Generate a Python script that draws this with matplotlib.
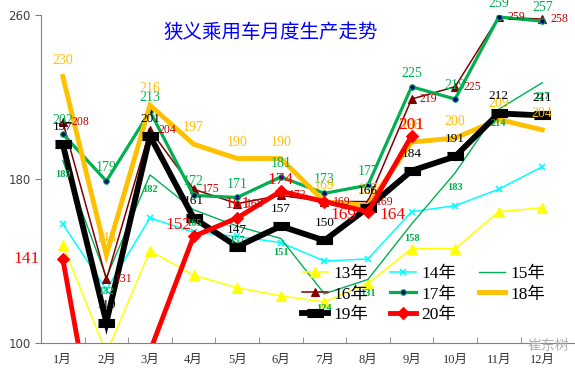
import numpy as np
import matplotlib
matplotlib.use('Agg')
import matplotlib.pyplot as plt

plt.rcParams['font.family'] = ['Liberation Serif', 'Noto Sans CJK SC', 'DejaVu Sans']

# data (万辆)
months = ['1月', '2月', '3月', '4月', '5月', '6月', '7月', '8月', '9月', '10月', '11月', '12月']
y13 = [148, 95, 145, 133, 127, 123, 120, 129, 146, 146, 164, 166]
y14 = [158, 126, 161, 154, 152, 149, 140, 141, 164, 167, 175, 186]
y15 = [189, 132, 182, 165, 157, 151, 124, 131, 158, 183, 214, 227]
y16 = [208, 131, 204, 175, 168, 172, 169, 169, 219, 225, 259, 258]
y17 = [202, 179, 213, 172, 171, 181, 173, 177, 225, 219, 259, 257]
y18 = [230, 143, 216, 197, 190, 190, 169, 167, 198, 200, 209, 204]
y19 = [197, 110, 201, 161, 147, 157, 150, 166, 184, 191, 212, 211]
y20 = [141, 24, 96, 152, 161, 174, 169, 164, 201]

fig = plt.figure(figsize=(5.75, 3.69), dpi=100)
ax = fig.add_axes([41 / 575, 1 - 343 / 369, 1 - 41 / 575, (343 - 15) / 369])

x = np.arange(1, 13)
rect = [(-1, -0.5), (1, -0.5), (1, 0.5), (-1, 0.5)]

# label placement for the 2020 series (points)
off20 = [(-26, 0), (0, 0), (0, 0), (-11, 8), (0, 10), (0, 8), (14, -10), (18, -2), (0, 8)]

# (name, values, color, lw, marker, ms, mfc, label color, label size, label offset, ha, va)
series = [
    ('13年', y13, '#FFFF00', 1.1, '^', 7, '#FFFF00', None, 0, (0, 0), 'center', 'center'),
    ('14年', y14, '#00FFFF', 1.1, 'x', 4, '#00FFFF', None, 0, (0, 0), 'center', 'center'),
    ('15年', y15, '#00B050', 1.0, None, 0, None, '#00B050', 7.5, (0, -7), 'center', 'top'),
    ('16年', y16, '#800000', 1.1, '^', 6, '#800000', '#C00000', 8.5, (6, 0), 'left', 'center'),
    ('17年', y17, '#00B050', 2.3, 'o', 4, '#000080', '#00B050', 10, (0, 5), 'center', 'bottom'),
    ('18年', y18, '#FFC000', 3.5, None, 0, None, '#FFC000', 10, (0, 7), 'center', 'bottom'),
    ('19年', y19, '#000000', 4.2, rect, 12, '#000000', '#000000', 9.5, (0, 8), 'center', 'bottom'),
    ('20年', y20, '#FF0000', 3.5, 'D', 6, '#FF0000', '#FF0000', 12.5, None, 'center', 'center'),
]

handles = []
for name, vals, col, lw, mk, ms, mfc, lcol, lsize, off, ha, va in series:
    xs = x[:len(vals)]
    h, = ax.plot(xs, vals, color=col, lw=lw, marker=mk, markersize=ms,
                 markerfacecolor=mfc, markeredgecolor=col,
                 markeredgewidth=1.2 if mk == 'x' else 0.8, label=name, solid_joinstyle='miter')
    handles.append(h)
    if lcol is None:
        continue
    for i, (xi, v) in enumerate(zip(xs, vals)):
        if v < 100 or v > 260:
            continue
        o = off if off is not None else off20[i]
        t = ax.annotate(str(v), (xi, v), xytext=o, textcoords='offset points',
                        ha=ha, va=va, color=lcol, fontsize=lsize,
                        fontweight='bold' if name == '15年' else 'normal')
        t.set_clip_on(True)
        t.set_clip_box(fig.bbox)

ax.set_ylim(100, 260)
ax.set_xlim(0.5, 12.75)
ax.set_yticks([100, 180, 260])
ax.tick_params(axis='y', labelsize=8.5, labelcolor='#404040', color='#808080',
               direction='out', length=4)
for t in ax.get_yticklabels():
    t.set_family(['DejaVu Sans'])
ax.set_xticks(x)
ax.set_xticklabels(months, fontsize=9, color='#333333')
ax.set_xticks(np.arange(1.5, 12.5, 1), minor=True)
ax.tick_params(axis='x', which='major', length=0, pad=8)
ax.tick_params(axis='x', which='minor', direction='in', length=4, color='#808080')
for s in ['top', 'right']:
    ax.spines[s].set_visible(False)
for s in ['left', 'bottom']:
    ax.spines[s].set_color('#808080')

fig.text(271 / 575, 1 - 32 / 369, '狭义乘用车月度生产走势', color='#0000FF', fontsize=14,
         ha='center', va='center', family=['Noto Sans CJK SC'])

order = [0, 3, 6, 1, 4, 7, 2, 5]
leg = fig.legend([handles[i] for i in order], [series[i][0] for i in order],
                 ncol=3, frameon=False, loc='lower right',
                 bbox_to_anchor=(552 / 575, 1 - 330 / 369),
                 fontsize=12.5, handlelength=1.5, handletextpad=0.3,
                 columnspacing=1.3, labelspacing=0.25, borderaxespad=0)

fig.text(548 / 575, 1 - 346 / 369, '崔东树', color='#B0B0B0', fontsize=10,
         ha='center', va='center', family=['Noto Sans CJK SC'])

fig.savefig('out.png', dpi=100)
